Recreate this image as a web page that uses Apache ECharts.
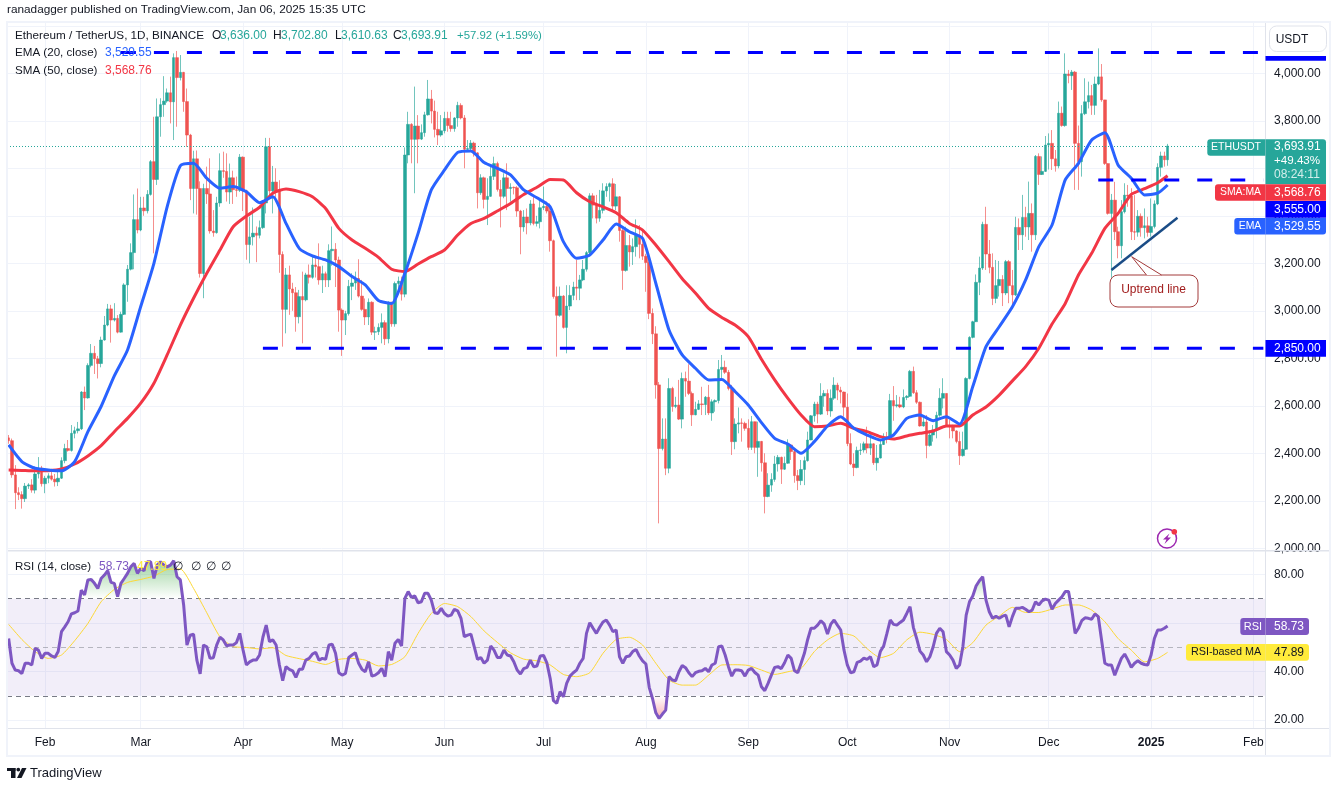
<!DOCTYPE html>
<html>
<head>
<meta charset="utf-8">
<title>ETHUSDT 1D</title>
<style>
	html, body { margin: 0; padding: 0; background: #fff; }
	#chart { width: 1338px; height: 786px; }
</style>
<script src="https://cdn.jsdelivr.net/npm/echarts@6/dist/echarts.min.js"></script>
</head>
<body>
<div id="chart"></div>
<script type="text/javascript">
	// daily bars, 2024-01-21 to 2025-01-06
	var opens = [
		2465,2453,2309,2234,2226,2209,2262,2267,2245,2313,2338,
		2272,2295,2305,2291,2280,2295,2369,2420,2412,2484,2495,2503,2658,2633,2770,2821,2798,2778,2877,2940,3008,2961,2968,2910,2985,3109,3175,3245,3384,
		3340,3433,3421,3490,3628,3553,3817,3868,3883,3918,3880,4066,3982,4004,3881,3740,3515,3640,3515,3157,3515,3492,3336,3329,3454,3590,3587,3500,3560,3510,3507,
		3647,3505,3279,3311,3327,3318,3350,3454,3691,3505,3542,3503,3237,3006,3151,3092,3076,2975,3060,3046,3151,3141,3193,3186,3130,3156,3130,3253,3259,3214,
		3003,2961,2988,3103,3117,3136,3062,3006,2974,3036,2910,2912,2930,2950,2882,3036,2945,3115,3125,3070,3656,3785,3722,3778,3723,3750,3825,3892,3841,3764,3740,
		3758,3810,3780,3767,3812,3865,3812,3680,3683,3706,3665,3497,3560,3469,3482,3566,3620,3511,3482,3560,3515,3520,3518,3420,3353,3395,3370,3450,3368,3375,
		3434,3440,3420,3295,3060,2981,3062,2930,3020,3065,3100,3095,3130,3175,3245,3484,3445,3390,3423,3505,3523,3535,3441,3480,3338,3170,3275,3248,3270,3318,3280,
		3230,3203,2989,2903,2688,2420,2460,2337,2673,2597,2603,2544,2715,2704,2652,2562,2585,2608,2605,2636,2570,2617,2622,2753,2762,2741,2673,2449,2523,2528,2526,
		2505,2425,2533,2425,2450,2360,2218,2266,2290,2355,2383,2333,2358,2435,2407,2306,2285,2332,2369,2456,2558,2607,2565,2641,2652,2578,2632,2687,2666,2658,
		2594,2441,2355,2340,2412,2414,2440,2422,2440,2360,2380,2437,2470,2465,2622,2600,2604,2595,2635,2640,2745,2655,2615,2515,2532,2433,2477,2498,2560,2632,2652,
		2515,2513,2494,2450,2390,2417,2715,2888,2954,3120,3180,3364,3239,3183,3052,3106,3132,3075,3207,3106,3067,3351,3320,3393,3353,3410,3320,3650,3574,3587,
		3698,3705,3640,3610,3832,3780,3997,3990,4005,3705,3628,3830,3880,3906,3865,3955,3985,3888,3620,3410,3466,3333,3274,3417,3487,3483,3333,3331,3398,3350,3358,
		3330,3355,3450,3604,3652,3636
	];
	var closes = [
		2453,2309,2234,2226,2209,2262,2267,2245,2313,2338,2272,
		2295,2305,2291,2280,2295,2369,2420,2412,2484,2495,2503,2658,2633,2770,2821,2798,2778,2877,2940,3008,2961,2968,2910,2985,3109,3175,3245,3384,3340,
		3433,3421,3490,3628,3553,3817,3868,3883,3918,3880,4066,3982,4004,3881,3740,3515,3640,3515,3157,3515,3492,3336,3329,3454,3590,3587,3500,3560,3510,3507,3647,
		3505,3279,3311,3327,3318,3350,3454,3691,3505,3542,3503,3237,3006,3151,3092,3076,2975,3060,3046,3151,3141,3193,3186,3130,3156,3130,3253,3259,3214,3003,
		2961,2988,3103,3117,3136,3062,3006,2974,3036,2910,2912,2930,2950,2882,3036,2945,3115,3125,3070,3656,3785,3722,3778,3723,3750,3825,3892,3841,3764,3740,3758,
		3810,3780,3767,3812,3865,3812,3680,3683,3706,3665,3497,3560,3469,3482,3566,3620,3511,3482,3560,3515,3520,3518,3420,3353,3395,3370,3450,3368,3375,3434,
		3440,3420,3295,3060,2981,3062,2930,3020,3065,3100,3095,3130,3175,3245,3484,3445,3390,3423,3505,3523,3535,3441,3480,3338,3170,3275,3248,3270,3318,3280,3230,
		3203,2989,2903,2688,2420,2460,2337,2673,2597,2603,2544,2715,2704,2652,2562,2585,2608,2605,2636,2570,2617,2622,2753,2762,2741,2673,2449,2523,2528,2526,2505,
		2425,2533,2425,2450,2360,2218,2266,2290,2355,2383,2333,2358,2435,2407,2306,2285,2332,2369,2456,2558,2607,2565,2641,2652,2578,2632,2687,2666,2658,2594,
		2441,2355,2340,2412,2414,2440,2422,2440,2360,2380,2437,2470,2465,2622,2600,2604,2595,2635,2640,2745,2655,2615,2515,2532,2433,2477,2498,2560,2632,2652,2515,
		2513,2494,2450,2390,2417,2715,2888,2954,3120,3180,3364,3239,3183,3052,3106,3132,3075,3207,3106,3067,3351,3320,3393,3353,3410,3320,3650,3574,3587,3698,
		3705,3640,3610,3832,3780,3997,3990,4005,3705,3628,3830,3880,3906,3865,3955,3985,3888,3620,3410,3466,3333,3274,3417,3487,3483,3333,3331,3398,3350,3358,3330,
		3355,3450,3604,3652,3636,3693.91
	];
	var highs = [
		2477,2462,2350,2257,2240,2275,2274,2291,2344,2384,2347,
		2305,2316,2323,2313,2330,2383,2440,2456,2519,2512,2532,2662,2681,2779,2860,2852,2810,2891,2978,3029,3025,3032,2982,2996,3116,3193,3284,3490,3515,
		3480,3480,3508,3635,3817,3894,3895,3988,3936,3986,4084,4094,4077,4006,3936,3745,3674,3675,3545,3535,3607,3642,3424,3480,3663,3670,3663,3620,3590,3565,3660,
		3650,3510,3396,3435,3355,3380,3460,3728,3728,3610,3600,3550,3250,3180,3190,3118,3100,3088,3165,3160,3195,3228,3228,3284,3190,3165,3280,3355,3285,3228,
		3010,3000,3130,3158,3165,3217,3130,3052,3052,3040,2933,2947,2989,2960,3040,3038,3123,3144,3144,3688,3838,3790,3944,3824,3785,3838,3972,3930,3885,3838,3824,
		3838,3838,3838,3815,3880,3874,3824,3719,3719,3712,3668,3575,3565,3558,3614,3649,3628,3551,3579,3621,3537,3523,3525,3425,3424,3431,3466,3480,3400,3466,
		3523,3460,3452,3300,3102,3102,3066,3108,3108,3122,3214,3151,3214,3252,3495,3495,3488,3509,3537,3537,3540,3558,3534,3483,3345,3354,3319,3305,3385,3361,3340,
		3240,3215,3010,2935,2700,2547,2547,2716,2680,2638,2709,2740,2744,2775,2660,2617,2624,2680,2641,2688,2627,2627,2793,2814,2790,2751,2688,2547,2593,2547,2533,
		2543,2557,2533,2533,2452,2400,2316,2316,2389,2393,2386,2386,2459,2436,2421,2330,2372,2386,2491,2561,2617,2617,2695,2666,2669,2669,2720,2697,2680,2660,
		2652,2484,2400,2428,2442,2449,2512,2491,2442,2435,2456,2484,2490,2650,2683,2645,2638,2669,2645,2751,2765,2666,2618,2561,2561,2498,2519,2575,2674,2716,2652,
		2540,2520,2497,2491,2491,2720,2893,2958,3153,3228,3375,3438,3298,3242,3214,3210,3150,3214,3214,3172,3396,3389,3488,3438,3544,3452,3656,3663,3650,3736,
		3747,3761,3677,3881,3860,4084,4014,4014,4010,3780,3866,3979,3965,3951,3986,4105,4039,3888,3620,3492,3543,3354,3466,3537,3530,3516,3487,3424,3410,3431,3396,
		3473,3465,3621,3670,3670,3702.80
	];
	var lows = [
		2440,2297,2165,2203,2167,2195,2250,2234,2231,2294,2260,
		2232,2274,2285,2260,2262,2292,2358,2407,2407,2463,2484,2498,2582,2630,2762,2734,2715,2762,2874,2935,2866,2955,2905,2908,2982,3038,3170,3175,3326,
		3335,3400,3410,3485,3242,3530,3733,3817,3876,3789,3719,3775,3970,3838,3690,3466,3410,3405,3140,3053,3450,3325,3312,3325,3438,3560,3460,3450,3450,3480,3500,
		3420,3215,3200,3275,3205,3305,3345,3410,3470,3410,3477,3160,2849,2905,2983,3000,2912,2947,2863,3040,3115,3135,3140,3110,3075,3100,3100,3190,3100,2912,
		2810,2898,2980,3045,3088,3056,3000,2940,2940,2898,2877,2898,2863,2856,2863,2933,2933,3080,3043,3057,3621,3621,3495,3621,3719,3733,3822,3789,3730,3698,3733,
		3747,3754,3754,3754,3775,3806,3600,3675,3670,3649,3431,3488,3431,3361,3480,3551,3502,3351,3474,3424,3460,3490,3396,3238,3333,3322,3360,3360,3355,3347,
		3424,3410,3249,3051,2807,2975,2925,2821,3003,3045,3045,3045,3125,3165,3228,3389,3368,3375,3410,3480,3460,3424,3424,3291,3088,3165,3186,3193,3228,3221,3214,
		3080,2965,2860,2630,2105,2412,2308,2316,2575,2590,2540,2505,2638,2645,2515,2560,2582,2561,2561,2561,2537,2575,2610,2708,2734,2665,2393,2417,2484,2449,2495,
		2414,2414,2400,2301,2323,2147,2215,2238,2280,2323,2271,2330,2356,2372,2276,2245,2266,2266,2365,2455,2533,2526,2561,2596,2561,2554,2625,2624,2610,2554,
		2430,2350,2304,2337,2393,2403,2400,2393,2351,2327,2378,2435,2442,2456,2537,2593,2590,2590,2624,2638,2650,2608,2512,2512,2379,2428,2449,2463,2554,2589,2512,
		2463,2463,2442,2351,2386,2414,2711,2884,2953,3066,3172,3172,3158,3024,3032,3060,3020,3066,3032,3024,3062,3256,3256,3312,3298,3249,3298,3530,3572,3585,
		3595,3593,3586,3600,3775,3775,3958,3930,3509,3509,3565,3824,3852,3825,3825,3950,3880,3614,3405,3099,3298,3221,3221,3410,3438,3298,3298,3312,3312,3305,3312,
		3312,3347,3445,3565,3607,3610.63
	];

	// moving averages read every 4th day, plus the last bar
	var ema20 = [
		2435,2365,2337,2330,2326,2365,2491,2597,2726,2835,3018,3200,3438,3611,3621,3558,3516,3523,3501,3455,3480,3368,
		3263,3231,3214,3186,3144,3109,3043,3031,3158,3326,3509,3593,3667,3673,3624,3600,3572,3509,3476,3438,3291,3221,
		3235,3298,3365,3333,3305,3116,2919,2814,2758,2709,2711,2660,2603,2529,2463,2439,2400,2449,2515,2554,2505,2477,
		2456,2477,2547,2561,2537,2554,2523,2681,2849,2933,3017,3130,3270,3361,3551,3621,3719,3750,3614,3558,3488,3495,3529.55
	];
	var sma50 = [
		2330,2328,2326,2327,2334,2355,2389,2432,2491,2547,2611,2695,2814,2940,3053,3158,3256,3354,3399,3436,3495,3513,
		3502,3480,3431,3347,3298,3263,3225,3175,3165,3197,3228,3256,3319,3368,3389,3420,3452,3490,3520,3553,3551,3497,
		3459,3438,3413,3368,3340,3277,3207,3135,3075,3010,2972,2940,2891,2796,2709,2631,2561,2512,2515,2526,2505,2491,
		2470,2460,2473,2484,2494,2515,2515,2561,2595,2645,2705,2765,2842,2944,3031,3151,3242,3347,3410,3490,3514,3539,3568.76
	];

	var rsi14 = [
		53.6,43.4,40.6,40.3,39.2,43.4,43.4,42.7,49.5,48.8,45.4,47.5,47.5,46.4,45.8,48.2,56.4,58.4,60.5,63.7,64.2,64.9,73.5,71.5,77.7,77.9,76.3,74.2,78.3,79.7,
		81.5,76.7,76.3,70.8,76.3,78.3,80.4,83.1,84.5,80.4,82.5,81.5,85.2,85.2,78.3,83.8,85.2,83.8,83.1,83.8,85.6,79.0,77.7,67.4,50.9,55.0,55.4,44.7,39.0,50.9,
		50.2,45.4,45.7,50.9,54.1,53.0,50.6,50.9,50.9,51.9,55.7,48.8,42.7,44.0,44.7,44.7,46.8,54.1,59.1,52.3,53.0,50.9,42.7,36.2,42.0,40.9,40.3,37.6,40.9,40.9,
		44.7,45.4,47.2,47.9,44.7,45.4,45.0,50.9,51.2,47.5,39.5,38.5,39.2,45.8,46.8,47.7,43.4,40.9,39.9,44.0,38.1,38.5,39.5,41.3,37.9,48.2,44.7,51.6,53.2,50.5,
		70.1,72.9,70.5,71.1,68.3,68.7,72.2,72.2,69.4,64.2,63.9,66.0,63.9,62.8,63.2,65.6,65.0,61.9,54.3,55.0,55.4,50.2,45.0,45.8,43.4,44.7,50.5,48.8,45.8,45.8,
		48.8,46.8,46.4,44.0,40.6,39.0,41.2,41.7,44.7,42.0,42.3,46.4,46.6,43.6,37.2,28.0,26.9,31.7,29.6,35.1,38.1,39.5,40.6,43.4,45.4,55.7,60.1,57.8,55.7,58.2,
		60.4,61.2,59.1,56.4,57.1,46.1,43.4,46.1,46.4,48.2,49.1,46.4,44.4,43.1,33.5,28.9,23.0,20.7,22.5,24.1,37.9,36.5,36.2,39.9,42.5,41.6,39.5,37.9,39.5,40.1,
		40.3,41.3,39.9,42.7,43.4,50.2,50.5,46.8,42.0,38.1,40.6,40.6,40.3,38.1,40.6,41.3,39.6,38.5,33.7,32.1,35.1,38.5,41.7,42.0,41.2,43.6,46.8,45.4,40.3,39.5,
		43.4,47.5,53.2,57.8,57.8,59.1,60.9,59.5,55.4,59.5,61.2,59.1,57.1,48.8,42.7,39.5,39.9,43.8,44.3,45.5,45.0,46.1,42.0,42.7,48.2,50.5,55.7,61.2,59.4,59.1,
		60.2,61.2,63.9,66.7,58.2,53.6,48.4,46.8,44.0,46.1,50.2,55.7,57.8,56.4,48.2,46.8,44.7,41.3,42.7,50.2,63.2,68.7,71.1,75.2,77.4,79.0,69.4,64.6,61.9,62.8,
		61.9,62.8,63.2,58.4,62.6,66.0,66.0,66.4,65.6,64.6,65.3,68.7,67.4,69.1,69.8,69.4,65.6,68.0,69.4,70.8,72.9,72.9,65.3,55.7,57.8,60.9,62.1,61.9,61.5,63.7,
		62.6,53.0,43.4,42.7,42.7,38.5,42.0,45.4,47.2,44.7,41.7,43.4,44.4,43.4,42.9,42.7,46.8,53.6,57.1,57.1,57.8,58.73
	];
	var rsiMa = [
		59.4,53.2,48.2,45.4,46.8,52.7,59.8,68.7,73.8,76.7,77.9,79.3,82.0,82.2,74.2,64.2,54.3,50.3,49.9,49.3,49.8,46.6,
		45.3,44.2,42.9,45.0,45.4,44.7,42.3,42.9,46.1,55.7,63.9,68.0,66.7,62.6,56.7,52.0,47.7,45.1,44.4,42.7,38.8,37.9,
		39.5,47.5,53.2,54.1,50.9,43.4,36.5,34.4,34.4,38.5,42.7,42.8,42.5,40.6,38.8,39.9,41.3,48.2,53.0,55.7,54.6,49.4,
		45.7,47.5,53.0,56.2,55.3,53.2,48.2,51.9,59.1,62.8,66.4,64.3,64.3,65.7,67.4,67.4,65.3,60.5,53.6,48.8,44.0,45.4,47.89
	];

	var priceLines = [2000,2200,2400,2600,2800,3000,3200,3400,3600,3800,4000,4200];
	var priceTicks = [2000,2200,2400,2600,2800,3000,3200,3400,3600,3800,4000];
	var rsiLines = [20,40,60,80];
	var rsiTicks = [20,40,80];
	var tickDates = ['2024-02-01','2024-03-01','2024-04-01','2024-05-01','2024-06-01','2024-07-01','2024-08-01','2024-09-01','2024-10-01','2024-11-01','2024-12-01','2025-01-01','2025-02-01'];
	var tickLabels = ['Feb','Mar','Apr','May','Jun','Jul','Aug','Sep','Oct','Nov','Dec','2025','Feb'];

	// drawn levels: [first bar, last bar, price]
	var levelTop = [34, 380, 4088];
	var levelMid = [330, 380, 3551];
	var levelLow = [77, 380, 2842];
	var trendFrom = [334, 3172];
	var trendTo = [354, 3392];
	var lastClose = 3693.91;

	var dayCount = 381;
	var days = [];
	for (var d = 0; d < dayCount; d++) {
		days.push(new Date(Date.UTC(2024, 0, 21 + d)).toISOString().slice(0, 10));
	}

	var maDays = [];
	for (var k = 0; k < 88; k++) {
		maDays.push(k * 4);
	}
	maDays.push(opens.length - 1);

	function atDays(values) {
		return values.map(function(v, i) {
			return [maDays[i], v];
		});
	}

	function isMonthTick(index) {
		return tickDates.indexOf(days[index]) >= 0;
	}

	var FONT = '"Liberation Sans", Arial, sans-serif';
	var GREEN = '#26a69a', RED = '#ef5350', GRID = '#f0f3fa', EDGE = '#e0e3eb', INK = '#131722';
	var BLUE = '#2962ff', SMA_RED = '#f23645', LEVEL = '#0000ff', PURPLE = '#7e57c2', YELLOW = '#ffeb3b';

	function levelLine(level) {
		return {
			type : 'line',
			xAxisIndex : 0,
			yAxisIndex : 0,
			data : [ [ level[0], level[2] ], [ level[1], level[2] ] ],
			symbol : 'none',
			silent : true,
			z : 8,
			lineStyle : { color : LEVEL, width : 3, type : [ 15, 18 ], cap : 'butt' }
		};
	}

	function label(x, y, text, color, opts) {
		opts = opts || {};
		return {
			type : 'text',
			z : 60,
			silent : true,
			x : x,
			y : y,
			style : {
				text : text,
				fill : color || INK,
				font : (opts.weight || 'normal') + ' ' + (opts.size || 12) + 'px ' + FONT,
				textAlign : opts.align || 'left',
				textVerticalAlign : 'middle'
			}
		};
	}

	function box(x, y, w, h, fill, r, z) {
		return {
			type : 'rect',
			z : z || 50,
			silent : true,
			shape : { x : x, y : y, width : w, height : h, r : r || 0 },
			style : { fill : fill }
		};
	}

	var overlays = [
		// frame
		box(6, 21, 1325, 2, GRID), box(6, 21, 2, 736, GRID), box(1329, 21, 2, 736, GRID), box(6, 755, 1325, 2, GRID),
		box(8, 550, 1321, 1.5, EDGE), box(8, 728, 1321, 1, EDGE), box(1265, 23, 1, 732, EDGE),

		label(7, 10, 'ranadagger published on TradingView.com, Jan 06, 2025 15:35 UTC', INK, { size : 11.8 }),
		label(15, 36, 'Ethereum / TetherUS, 1D, BINANCE', INK, { size : 11.7 }),
		label(212, 36, 'O', INK), label(220, 36, '3,636.00', GREEN),
		label(273, 36, 'H', INK), label(281, 36, '3,702.80', GREEN),
		label(335, 36, 'L', INK), label(341, 36, '3,610.63', GREEN),
		label(393, 36, 'C', INK), label(401, 36, '3,693.91', GREEN),
		label(457, 36, '+57.92 (+1.59%)', GREEN, { size : 11.4 }),
		label(15, 53, 'EMA (20, close)', INK, { size : 11.6 }), label(105, 53, '3,529.55', BLUE),
		label(15, 71, 'SMA (50, close)', INK, { size : 11.6 }), label(105, 71, '3,568.76', SMA_RED),
		label(15, 567, 'RSI (14, close)', INK, { size : 11.5 }), label(99, 567, '58.73', PURPLE), label(137, 567, '47.89', YELLOW),
		label(173, 567, '∅', INK), label(191, 567, '∅', INK), label(206, 567, '∅', INK), label(221, 567, '∅', INK),

		// currency button
		{ type : 'rect', z : 50, silent : true, shape : { x : 1269.5, y : 26, width : 57, height : 25.5, r : 7 }, style : { fill : '#fff', stroke : EDGE, lineWidth : 1 } },
		label(1292, 39.5, 'USDT', INK, { align : 'center' }),

		// price scale tags
		box(1265.5, 56, 60.5, 4.7, LEVEL),
		box(1207.3, 139.3, 58, 16.4, GREEN, [ 3, 0, 0, 3 ]), label(1236, 147.5, 'ETHUSDT', '#fff', { align : 'center', size : 10.6 }),
		box(1265.5, 139.3, 60.5, 45, GREEN, [ 0, 3, 0, 0 ]),
		label(1274, 146.7, '3,693.91', '#fff'), label(1274, 160.7, '+49.43%', '#fff', { size : 11.6 }), label(1274, 174.3, '08:24:11', '#d4eeeb'),
		box(1215, 184.2, 50.5, 16.6, SMA_RED, [ 3, 0, 0, 3 ]), label(1240.5, 192.5, 'SMA:MA', '#fff', { align : 'center', size : 10.4 }),
		box(1265.5, 184.2, 60.5, 16.6, SMA_RED), label(1274, 192.5, '3,568.76', '#fff'),
		box(1265.5, 201, 60.5, 16.8, LEVEL), label(1274, 209.4, '3,555.00', '#fff'),
		box(1234.3, 218, 31.2, 16.6, BLUE, [ 3, 0, 0, 3 ]), label(1250, 226.3, 'EMA', '#fff', { align : 'center', size : 10.4 }),
		box(1265.5, 218, 60.5, 16.6, BLUE, [ 0, 0, 3, 0 ]), label(1274, 226.3, '3,529.55', '#fff'),
		box(1265.5, 340, 60.5, 16.7, LEVEL), label(1274, 348.4, '2,850.00', '#fff'),

		// rsi tags
		box(1240.3, 618, 25, 17, PURPLE, [ 3, 0, 0, 3 ]), label(1253, 626.5, 'RSI', '#fff', { align : 'center', size : 11 }),
		box(1265.5, 618, 43.5, 17, PURPLE, [ 0, 3, 3, 0 ]), label(1274, 626.5, '58.73', '#fff'),
		box(1186, 644, 79.5, 16.7, YELLOW, [ 3, 0, 0, 3 ]), label(1226, 652.3, 'RSI-based MA', INK, { align : 'center', size : 10.8 }),
		box(1265.5, 644, 43.5, 16.7, YELLOW, [ 0, 3, 3, 0 ]), label(1274, 652.3, '47.89', INK),

		// callout
		{ type : 'rect', z : 40, silent : true, shape : { x : 1110, y : 275, width : 88, height : 32, r : 8 }, style : { fill : '#fff', stroke : '#a33a3a', lineWidth : 1 } },
		{ type : 'polyline', z : 41, silent : true, shape : { points : [ [ 1146.5, 275 ], [ 1131.7, 256.7 ], [ 1161.5, 275 ] ] }, style : { fill : '#fff', stroke : '#a33a3a', lineWidth : 1 } },
		label(1153.5, 290, 'Uptrend line', '#a11c1c', { align : 'center' }),

		// lightning badge
		{ type : 'circle', z : 40, silent : true, shape : { cx : 1167, cy : 538.5, r : 9.5 }, style : { fill : '#fff', stroke : '#9c27b0', lineWidth : 1.5 } },
		{ type : 'polygon', z : 41, silent : true, shape : { points : [ [ 1169.5, 533.5 ], [ 1163, 539.5 ], [ 1166.5, 539.5 ], [ 1164.5, 544 ], [ 1171, 537.5 ], [ 1167.5, 537.5 ] ] }, style : { fill : '#9c27b0' } },
		{ type : 'circle', z : 42, silent : true, shape : { cx : 1174.3, cy : 531.7, r : 2.8 }, style : { fill : '#f23645' } },

		// footer logo
		box(7, 768, 8.5, 3, INK), box(11, 768, 4.5, 10, INK),
		{ type : 'circle', z : 50, silent : true, shape : { cx : 18.3, cy : 769.6, r : 1.9 }, style : { fill : INK } },
		{ type : 'polygon', z : 50, silent : true, shape : { points : [ [ 22, 768 ], [ 26.5, 768 ], [ 21.5, 778 ], [ 17, 778 ] ] }, style : { fill : INK } },
		label(30, 773, 'TradingView', INK, { size : 13 })
	];

	var chart = echarts.init(document.getElementById('chart'), null, { renderer : 'canvas' });

	function monthSplit(show) {
		return {
			show : show,
			interval : function(index) { return isMonthTick(index); },
			alignWithLabel : true,
			lineStyle : { color : GRID, width : 1 }
		};
	}

	chart.setOption({
		animation : false,
		backgroundColor : '#fff',
		textStyle : { fontFamily : FONT },
		graphic : overlays,
		grid : [
			{ left : 7, width : 1258, top : 22.6, height : 527.4 },
			{ left : 7, width : 1258, top : 552, height : 176 }
		],
		xAxis : [ {
			type : 'category',
			gridIndex : 0,
			data : days,
			axisLine : { show : false },
			axisTick : { show : false },
			axisLabel : { show : false },
			splitLine : monthSplit(true)
		}, {
			type : 'category',
			gridIndex : 1,
			data : days,
			axisLine : { show : false },
			axisTick : { show : false },
			axisLabel : {
				interval : function(index) { return isMonthTick(index); },
				formatter : function(value) {
					var text = tickLabels[tickDates.indexOf(value)];
					return text === '2025' ? '{year|2025}' : text;
				},
				hideOverlap : false,
				color : INK,
				fontSize : 12,
				fontFamily : FONT,
				margin : 9,
				rich : { year : { fontWeight : 'bold', fontSize : 12, fontFamily : FONT, color : INK } }
			},
			splitLine : monthSplit(true)
		} ],
		yAxis : [ {
			type : 'value',
			gridIndex : 0,
			position : 'right',
			min : 1992.8,
			max : 4213.5,
			axisLine : { show : false },
			axisTick : { show : false, customValues : priceLines },
			axisLabel : {
				customValues : priceTicks,
				color : INK,
				fontSize : 12,
				fontFamily : FONT,
				margin : 9,
				formatter : function(v) {
					return v.toLocaleString('en-US', { minimumFractionDigits : 2 });
				}
			},
			splitLine : { lineStyle : { color : GRID, width : 1 } }
		}, {
			type : 'value',
			gridIndex : 1,
			position : 'right',
			min : 16.75,
			max : 89.2,
			axisLine : { show : false },
			axisTick : { show : false, customValues : rsiLines },
			axisLabel : {
				customValues : rsiTicks,
				color : INK,
				fontSize : 12,
				fontFamily : FONT,
				margin : 9,
				formatter : function(v) { return v.toFixed(2); }
			},
			splitLine : { lineStyle : { color : GRID, width : 1 } }
		} ],
		series : [ {
			// wicks, a little paler than the bodies
			type : 'candlestick',
			xAxisIndex : 0,
			yAxisIndex : 0,
			barWidth : 1,
			z : 3,
			silent : true,
			data : opens.map(function(o, i) {
				return [ o, closes[i], lows[i], highs[i] ];
			}),
			itemStyle : {
				color : 'rgba(38,166,154,0.65)', color0 : 'rgba(239,83,80,0.65)',
				borderColor : 'rgba(38,166,154,0.65)', borderColor0 : 'rgba(239,83,80,0.65)',
				borderWidth : 1
			}
		}, {
			type : 'candlestick',
			xAxisIndex : 0,
			yAxisIndex : 0,
			barWidth : 3,
			z : 4,
			silent : true,
			data : opens.map(function(o, i) {
				return [ o, closes[i], Math.min(o, closes[i]), Math.max(o, closes[i]) ];
			}),
			itemStyle : {
				color : GREEN, color0 : RED,
				borderColor : GREEN, borderColor0 : RED,
				borderWidth : 0.5
			},
			markLine : {
				silent : true,
				symbol : 'none',
				animation : false,
				label : { show : false },
				lineStyle : { color : GREEN, width : 1, type : [ 1, 2 ] },
				data : [ { yAxis : lastClose } ]
			}
		}, {
			name : 'SMA',
			type : 'line',
			xAxisIndex : 0,
			yAxisIndex : 0,
			data : atDays(sma50),
			symbol : 'none',
			smooth : 0.2,
			silent : true,
			z : 6,
			lineStyle : { color : SMA_RED, width : 3 }
		}, {
			name : 'EMA',
			type : 'line',
			xAxisIndex : 0,
			yAxisIndex : 0,
			data : atDays(ema20),
			symbol : 'none',
			smooth : 0.2,
			silent : true,
			z : 7,
			lineStyle : { color : BLUE, width : 3 }
		},
		levelLine(levelTop), levelLine(levelMid), levelLine(levelLow), {
			name : 'Uptrend',
			type : 'line',
			xAxisIndex : 0,
			yAxisIndex : 0,
			data : [ trendFrom, trendTo ],
			symbol : 'none',
			silent : true,
			z : 9,
			lineStyle : { color : '#1a4c86', width : 2.5 }
		}, {
			name : 'Overbought',
			type : 'line',
			xAxisIndex : 1,
			yAxisIndex : 1,
			data : rsi14.map(function(v) { return Math.max(v, 70); }),
			symbol : 'none',
			silent : true,
			z : 3,
			lineStyle : { width : 0 },
			areaStyle : {
				origin : 70,
				opacity : 1,
				color : new echarts.graphic.LinearGradient(0, 0, 0, 1, [
					{ offset : 0, color : 'rgba(76,175,80,0.55)' },
					{ offset : 1, color : 'rgba(76,175,80,0)' }
				])
			}
		}, {
			name : 'Oversold',
			type : 'line',
			xAxisIndex : 1,
			yAxisIndex : 1,
			data : rsi14.map(function(v) { return Math.min(v, 30); }),
			symbol : 'none',
			silent : true,
			z : 3,
			lineStyle : { width : 0 },
			areaStyle : {
				origin : 30,
				opacity : 1,
				color : new echarts.graphic.LinearGradient(0, 1, 0, 0, [
					{ offset : 0, color : 'rgba(242,54,69,0.4)' },
					{ offset : 1, color : 'rgba(242,54,69,0)' }
				])
			}
		}, {
			name : 'RSI-based MA',
			type : 'line',
			xAxisIndex : 1,
			yAxisIndex : 1,
			data : atDays(rsiMa),
			symbol : 'none',
			smooth : 0.2,
			silent : true,
			z : 5,
			lineStyle : { color : '#fdd835', width : 1 }
		}, {
			name : 'RSI',
			type : 'line',
			xAxisIndex : 1,
			yAxisIndex : 1,
			data : rsi14,
			symbol : 'none',
			silent : true,
			z : 6,
			lineStyle : { color : PURPLE, width : 3 },
			markArea : {
				silent : true,
				itemStyle : { color : 'rgba(126,87,194,0.1)' },
				data : [ [ { yAxis : 70 }, { yAxis : 30 } ] ]
			},
			markLine : {
				silent : true,
				symbol : 'none',
				animation : false,
				label : { show : false },
				data : [
					{ yAxis : 70, lineStyle : { color : '#787b86', width : 1, type : [ 5, 4 ] } },
					{ yAxis : 50, lineStyle : { color : 'rgba(120,123,134,0.5)', width : 1, type : [ 5, 4 ] } },
					{ yAxis : 30, lineStyle : { color : '#787b86', width : 1, type : [ 5, 4 ] } }
				]
			}
		} ]
	});
</script>
</body>
</html>
